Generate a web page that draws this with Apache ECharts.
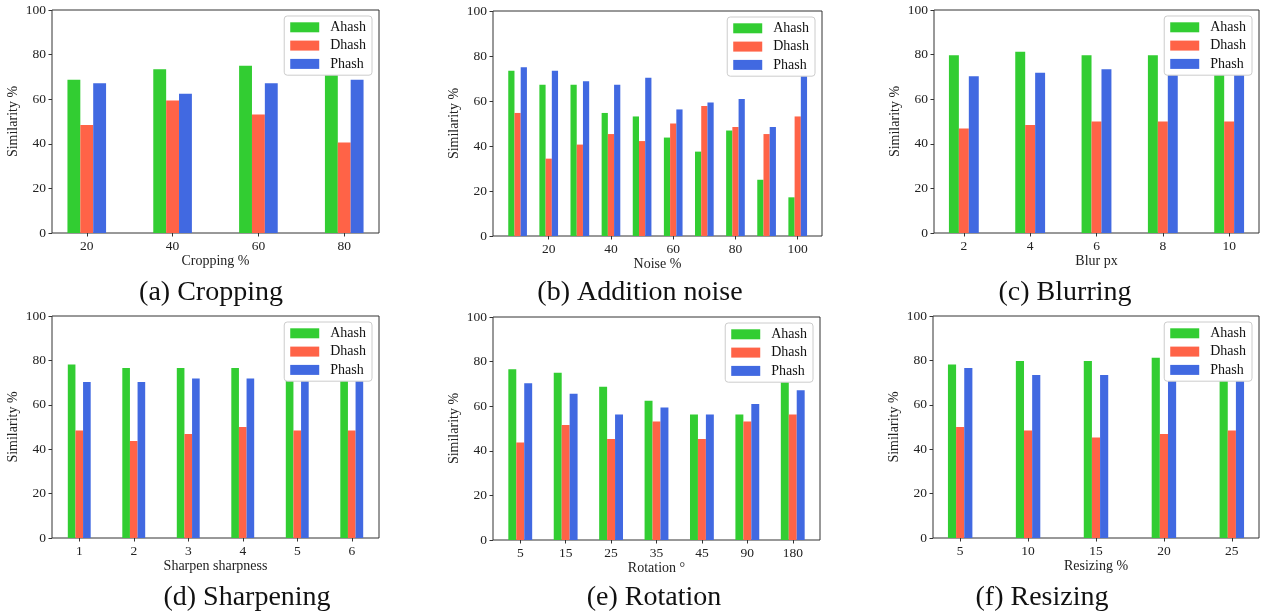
<!DOCTYPE html>
<html>
<head>
<meta charset="utf-8">
<script src="https://cdn.jsdelivr.net/npm/echarts@6/dist/echarts.min.js"></script>
<style>
html, body { margin: 0; padding: 0; background: #fff; }
#chart { width: 1265px; height: 615px; }
</style>
</head>
<body>
<div id="chart"></div>
<script>
const SERIES_NAMES = ["Ahash", "Dhash", "Phash"];
const COLORS = ["#32cd32", "#ff6347", "#4169e1"];

// (a) cropping
const cropLabels = ["20", "40", "60", "80"];
const cropAhash = [68.75, 73.44, 75.00, 75.00];
const cropDhash = [48.44, 59.38, 53.13, 40.63];
const cropPhash = [67.19, 62.50, 67.19, 68.75];

// (b) addition noise (numeric x axis)
const noiseLevels = [10, 20, 30, 40, 50, 60, 70, 80, 90, 100];
const noiseTicks = [20, 40, 60, 80, 100];
const noiseAhash = [73.44, 67.19, 67.19, 54.69, 53.13, 43.75, 37.50, 46.88, 25.00, 17.19];
const noiseDhash = [54.69, 34.38, 40.63, 45.31, 42.19, 50.00, 57.81, 48.44, 45.31, 53.13];
const noisePhash = [75.00, 73.44, 68.75, 67.19, 70.31, 56.25, 59.38, 60.94, 48.44, 71.88];

// (c) blurring
const blurLabels = ["2", "4", "6", "8", "10"];
const blurAhash = [79.69, 81.25, 79.69, 79.69, 79.69];
const blurDhash = [46.88, 48.44, 50.00, 50.00, 50.00];
const blurPhash = [70.31, 71.88, 73.44, 73.44, 73.44];

// (d) sharpening
const sharpLabels = ["1", "2", "3", "4", "5", "6"];
const sharpAhash = [78.13, 76.56, 76.56, 76.56, 76.56, 76.56];
const sharpDhash = [48.44, 43.75, 46.88, 50.00, 48.44, 48.44];
const sharpPhash = [70.31, 70.31, 71.88, 71.88, 71.88, 71.88];

// (e) rotation
const rotLabels = ["5", "15", "25", "35", "45", "90", "180"];
const rotAhash = [76.56, 75.00, 68.75, 62.50, 56.25, 56.25, 73.44];
const rotDhash = [43.75, 51.56, 45.31, 53.13, 45.31, 53.13, 56.25];
const rotPhash = [70.31, 65.63, 56.25, 59.38, 56.25, 60.94, 67.19];

// (f) resizing
const resizeLabels = ["5", "10", "15", "20", "25"];
const resizeAhash = [78.13, 79.69, 79.69, 81.25, 79.69];
const resizeDhash = [50.00, 48.44, 45.31, 46.88, 48.44];
const resizePhash = [76.56, 73.44, 73.44, 73.44, 73.44];

const W = 1265;
const FONT = "Liberation Serif";

function indexOf(labels){
    return labels.map((_, i) => i);
}

// frame = [left, top, right, bottom] of each plot box
const panels = [
    { frame: [52, 10, 379, 233], xs: indexOf(cropLabels), ticks: indexOf(cropLabels),
      text: v => cropLabels[v], min: -0.405, max: 3.405, bw: "15%",
      xName: "Cropping %", values: [cropAhash, cropDhash, cropPhash],
      caption: "(a) Cropping", cap: [211, 293] },
    { frame: [493, 11, 822, 236], xs: noiseLevels, ticks: noiseTicks,
      text: v => String(v), min: 2.1, max: 107.8, bw: "20%",
      xName: "Noise %", values: [noiseAhash, noiseDhash, noisePhash],
      caption: "(b) Addition noise", cap: [640, 293] },
    { frame: [934, 10, 1259, 233], xs: indexOf(blurLabels), ticks: indexOf(blurLabels),
      text: v => blurLabels[v], min: -0.45, max: 4.45, bw: "15%",
      xName: "Blur px", values: [blurAhash, blurDhash, blurPhash],
      caption: "(c) Blurring", cap: [1065, 293] },
    { frame: [52, 316, 379, 538], xs: indexOf(sharpLabels), ticks: indexOf(sharpLabels),
      text: v => sharpLabels[v], min: -0.5, max: 5.5, bw: "14%",
      xName: "Sharpen sharpness", values: [sharpAhash, sharpDhash, sharpPhash],
      caption: "(d) Sharpening", cap: [247, 598] },
    { frame: [493, 317, 820, 540], xs: indexOf(rotLabels), ticks: indexOf(rotLabels),
      text: v => rotLabels[v], min: -0.6, max: 6.6, bw: "17.5%",
      xName: "Rotation \u00b0", values: [rotAhash, rotDhash, rotPhash],
      caption: "(e) Rotation", cap: [654, 598] },
    { frame: [933, 316, 1259, 538], xs: indexOf(resizeLabels), ticks: indexOf(resizeLabels),
      text: v => resizeLabels[v], min: -0.4, max: 4.4, bw: "12%",
      xName: "Resizing %", values: [resizeAhash, resizeDhash, resizePhash],
      caption: "(f) Resizing", cap: [1042, 598] }
];

const grid = [];
const xAxis = [];
const yAxis = [];
const series = [];
const legend = [];
const graphic = [];

panels.forEach((p, k) => {

    const [l, t, r, b] = p.frame;

    grid.push({
        left: l, top: t, width: r - l, height: b - t,
        show: true, borderColor: "#333", borderWidth: 1,
        backgroundColor: "transparent"
    });

    xAxis.push({
        gridIndex: k,
        type: "value",
        position: "bottom",
        min: p.min,
        max: p.max,
        axisLine: { show: false, onZero: false },
        splitLine: { show: false },
        axisTick: {
            show: true, inside: false, length: 3.5,
            customValues: p.ticks,
            lineStyle: { color: "#333", width: 1 }
        },
        axisLabel: {
            customValues: p.ticks,
            formatter: p.text,
            margin: 6,
            fontFamily: FONT, fontSize: 13.5, color: "#222"
        },
        name: p.xName,
        nameLocation: "middle",
        nameGap: 20,
        nameTextStyle: { fontFamily: FONT, fontSize: 14, color: "#222" }
    });

    yAxis.push({
        gridIndex: k,
        type: "value",
        position: "left",
        min: 0,
        max: 100,
        interval: 20,
        axisLine: { show: false, onZero: false },
        splitLine: { show: false },
        axisTick: {
            show: true, inside: false, length: 3.5,
            lineStyle: { color: "#333", width: 1 }
        },
        axisLabel: { margin: 6, fontFamily: FONT, fontSize: 13.5, color: "#222" },
        name: "Similarity %",
        nameLocation: "middle",
        nameGap: 32,
        nameTextStyle: { fontFamily: FONT, fontSize: 14, color: "#222" }
    });

    p.values.forEach((vals, s) => {
        series.push({
            name: SERIES_NAMES[s],
            type: "bar",
            xAxisIndex: k,
            yAxisIndex: k,
            barWidth: p.bw,
            barGap: "0%",
            itemStyle: { color: COLORS[s] },
            data: p.xs.map((x, i) => [x, vals[i]])
        });
    });

    legend.push({
        data: SERIES_NAMES,
        orient: "vertical",
        right: W - r + 7,
        top: t + 6,
        icon: "rect",
        itemWidth: 29,
        itemHeight: 10,
        itemGap: 4.3,
        padding: [4.3, 6, 4.3, 6],
        backgroundColor: "#fff",
        borderColor: "#ccc",
        borderWidth: 1,
        borderRadius: 3,
        selectedMode: false,
        textStyle: {
            fontFamily: FONT, fontSize: 14, color: "#111",
            lineHeight: 14, padding: [0, 0, 0, 6]
        }
    });

    graphic.push({
        type: "text",
        x: p.cap[0],
        y: p.cap[1],
        style: {
            text: p.caption,
            fontFamily: FONT,
            fontSize: 28,
            fill: "#111",
            align: "center",
            verticalAlign: "middle"
        }
    });
});

const chart = echarts.init(document.getElementById("chart"));

chart.setOption({
    animation: false,
    color: COLORS,
    grid: grid,
    xAxis: xAxis,
    yAxis: yAxis,
    legend: legend,
    graphic: graphic,
    series: series
});
</script>
</body>
</html>
